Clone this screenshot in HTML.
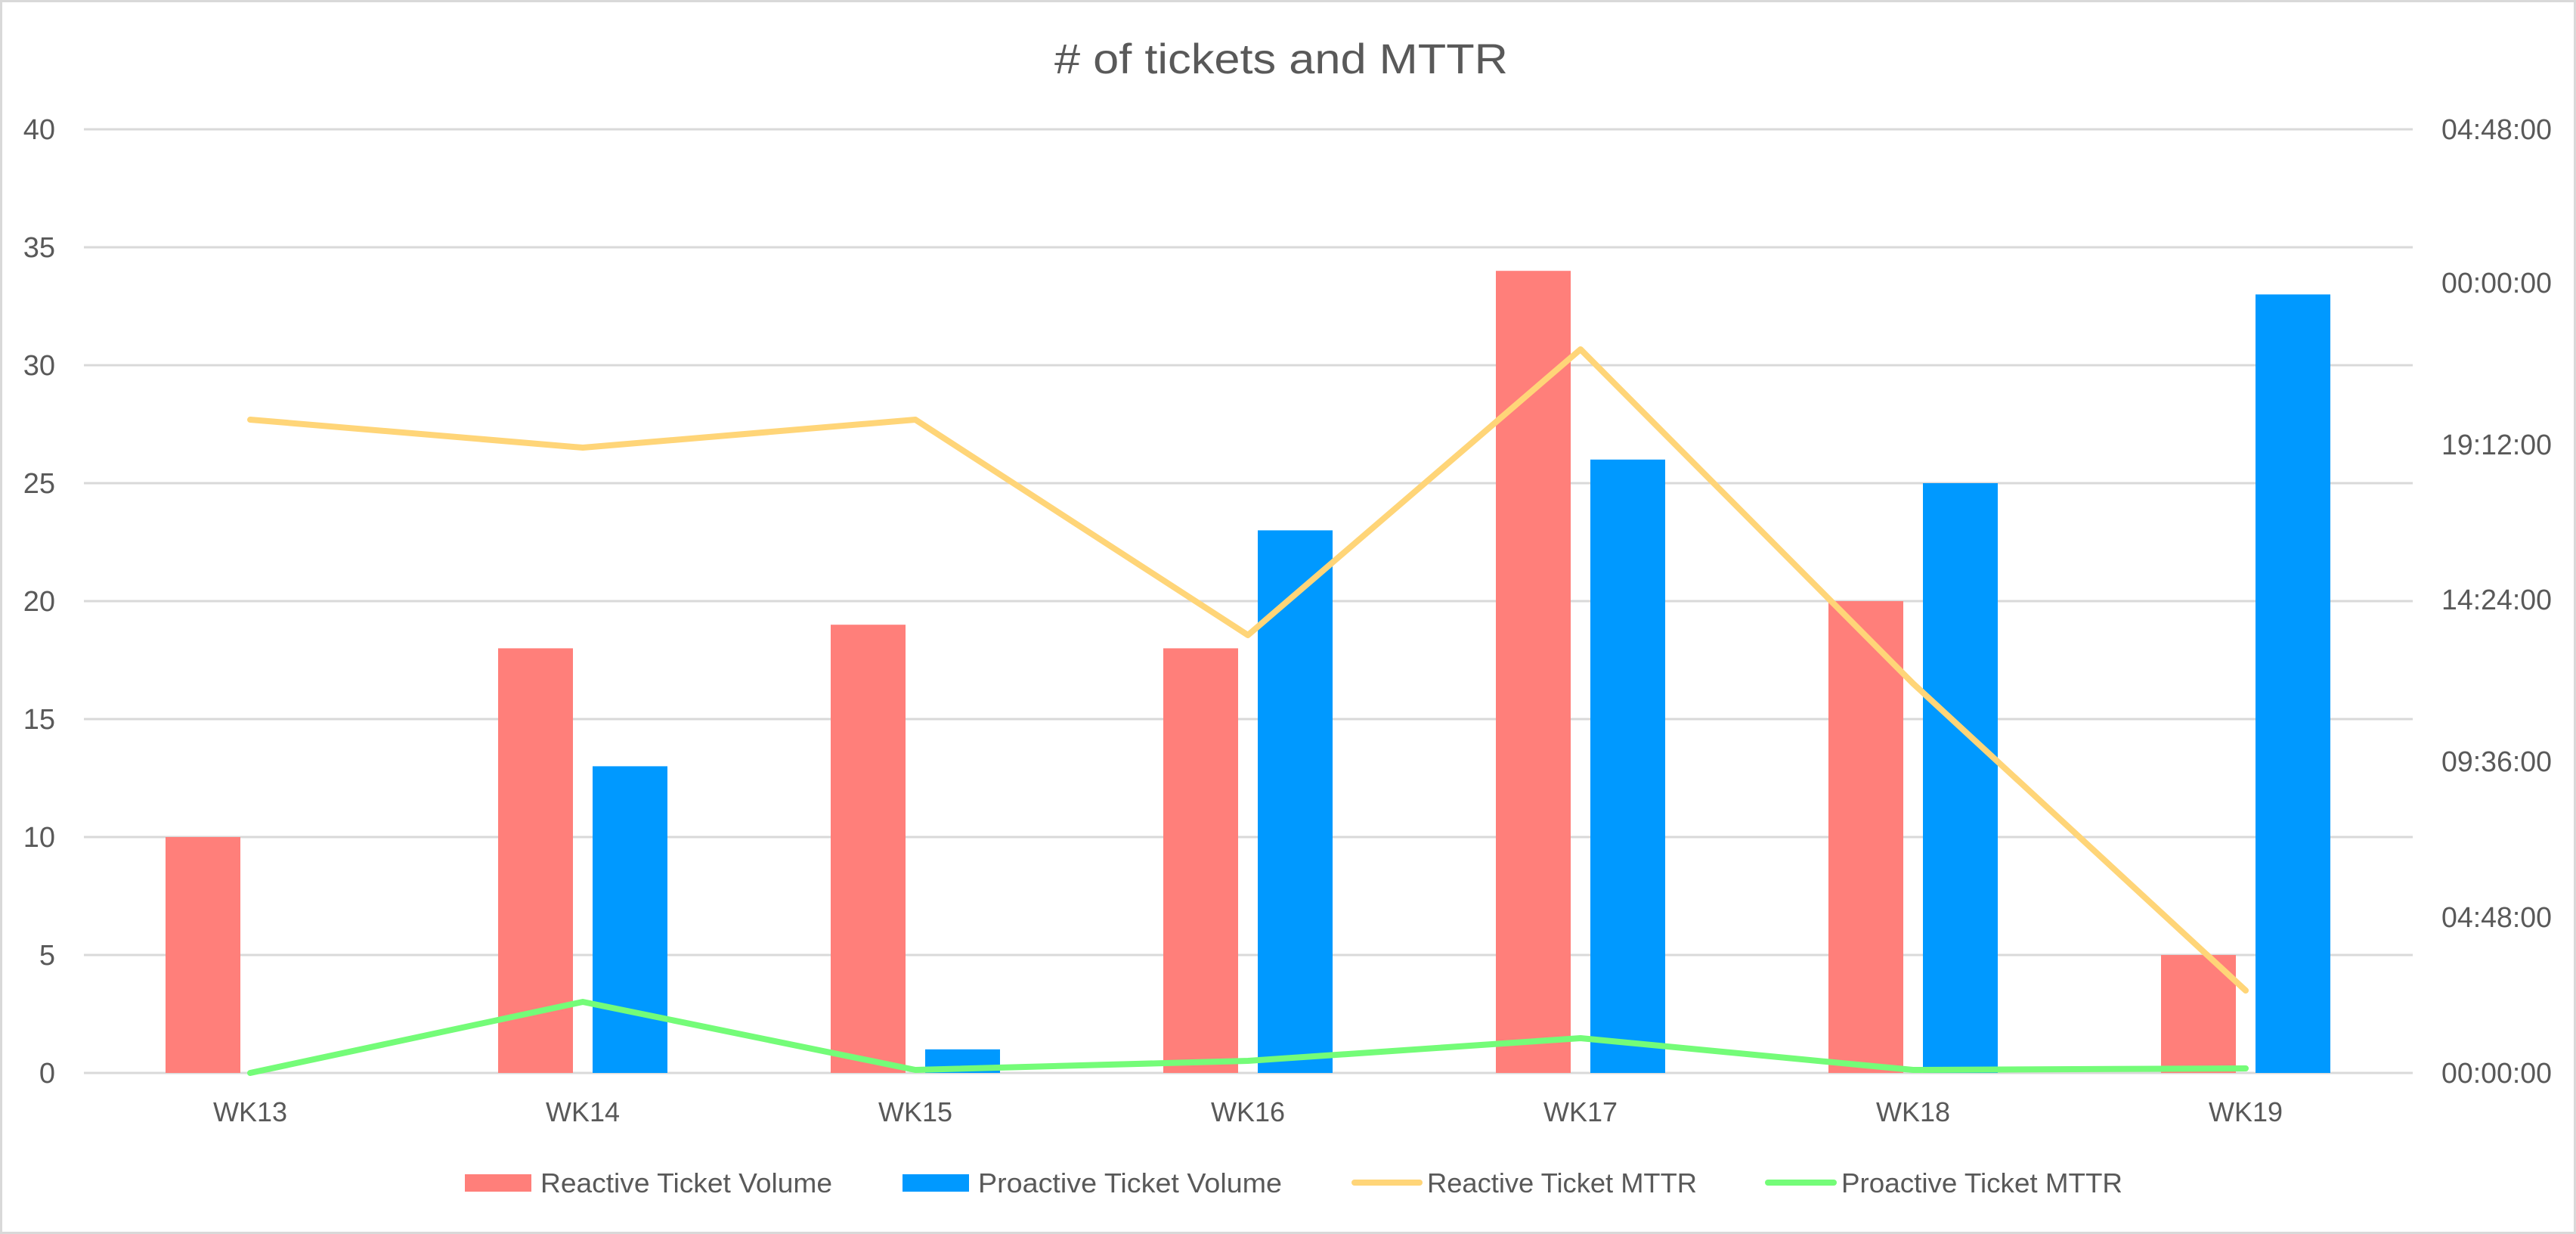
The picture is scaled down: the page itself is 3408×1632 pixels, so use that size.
<!DOCTYPE html>
<html><head><meta charset="utf-8"><style>
html,body{margin:0;padding:0;background:#fff;}
svg{display:block;}
text{font-family:"Liberation Sans",sans-serif;fill:#595959;}
</style></head><body>
<svg width="3408" height="1632" viewBox="0 0 3408 1632" xmlns="http://www.w3.org/2000/svg">
<rect x="1.5" y="1.5" width="3405" height="1629" fill="#fff" stroke="#d9d9d9" stroke-width="3"/>
<text x="1695" y="97" font-size="56" text-anchor="middle" textLength="600" lengthAdjust="spacingAndGlyphs">
# of tickets and MTTR</text>
<g stroke="#d9d9d9" stroke-width="3">
<line x1="111" y1="171" x2="3192" y2="171"/>
<line x1="111" y1="327" x2="3192" y2="327"/>
<line x1="111" y1="483" x2="3192" y2="483"/>
<line x1="111" y1="639" x2="3192" y2="639"/>
<line x1="111" y1="795" x2="3192" y2="795"/>
<line x1="111" y1="951" x2="3192" y2="951"/>
<line x1="111" y1="1107" x2="3192" y2="1107"/>
<line x1="111" y1="1263" x2="3192" y2="1263"/>
<line x1="111" y1="1419" x2="3192" y2="1419"/>
</g>
<g font-size="38" text-anchor="end">
<text x="73" y="184">40</text><text x="73" y="340">35</text><text x="73" y="496">30</text>
<text x="73" y="652">25</text><text x="73" y="808">20</text><text x="73" y="964">15</text>
<text x="73" y="1120">10</text><text x="73" y="1276">5</text><text x="73" y="1432">0</text>
</g>
<g font-size="38" text-anchor="start">
<text x="3230" y="184" textLength="146" lengthAdjust="spacingAndGlyphs">04:48:00</text>
<text x="3230" y="387" textLength="146" lengthAdjust="spacingAndGlyphs">00:00:00</text>
<text x="3230" y="601" textLength="146" lengthAdjust="spacingAndGlyphs">19:12:00</text>
<text x="3230" y="806" textLength="146" lengthAdjust="spacingAndGlyphs">14:24:00</text>
<text x="3230" y="1020" textLength="146" lengthAdjust="spacingAndGlyphs">09:36:00</text>
<text x="3230" y="1226" textLength="146" lengthAdjust="spacingAndGlyphs">04:48:00</text>
<text x="3230" y="1432" textLength="146" lengthAdjust="spacingAndGlyphs">00:00:00</text>
</g>
<g fill="#ff7f7a">
<rect x="219" y="1107" width="99" height="312"/>
<rect x="659" y="857.4" width="99" height="561.6"/>
<rect x="1099" y="826.2" width="99" height="592.8"/>
<rect x="1539" y="857.4" width="99" height="561.6"/>
<rect x="1979" y="358.2" width="99" height="1060.8"/>
<rect x="2419" y="795" width="99" height="624"/>
<rect x="2859" y="1263" width="99" height="156"/>
</g>
<g fill="#0099ff">
<rect x="784" y="1013.4" width="99" height="405.6"/>
<rect x="1224" y="1387.8" width="99" height="31.2"/>
<rect x="1664" y="701.4" width="99" height="717.6"/>
<rect x="2104" y="607.8" width="99" height="811.2"/>
<rect x="2544" y="639" width="99" height="780"/>
<rect x="2984" y="389.4" width="99" height="1029.6"/>
</g>
<polyline fill="none" stroke="#ffd578" stroke-width="8" stroke-linecap="round" stroke-linejoin="round"
 points="331,555 771,592 1211,555 1651,840 2091,462 2531,904 2971,1310"/>
<polyline fill="none" stroke="#74fc78" stroke-width="8" stroke-linecap="round" stroke-linejoin="round"
 points="331,1419 771,1325 1211,1415 1651,1403 2091,1373 2531,1415 2971,1413"/>
<g font-size="36" text-anchor="middle">
<text x="331" y="1483">WK13</text><text x="771" y="1483">WK14</text><text x="1211" y="1483">WK15</text>
<text x="1651" y="1483">WK16</text><text x="2091" y="1483">WK17</text><text x="2531" y="1483">WK18</text>
<text x="2971" y="1483">WK19</text>
</g>
<rect x="615" y="1553" width="88" height="23" fill="#ff7f7a"/>
<text x="715" y="1577" font-size="36" textLength="386" lengthAdjust="spacingAndGlyphs">Reactive Ticket Volume</text>
<rect x="1194" y="1553" width="88" height="23" fill="#0099ff"/>
<text x="1294" y="1577" font-size="36" textLength="402" lengthAdjust="spacingAndGlyphs">Proactive Ticket Volume</text>
<line x1="1792" y1="1564" x2="1878" y2="1564" stroke="#ffd578" stroke-width="8" stroke-linecap="round"/>
<text x="1888" y="1577" font-size="36" textLength="357" lengthAdjust="spacingAndGlyphs">Reactive Ticket MTTR</text>
<line x1="2339" y1="1564" x2="2426" y2="1564" stroke="#74fc78" stroke-width="8" stroke-linecap="round"/>
<text x="2436" y="1577" font-size="36" textLength="372" lengthAdjust="spacingAndGlyphs">Proactive Ticket MTTR</text>
</svg>
</body></html>
